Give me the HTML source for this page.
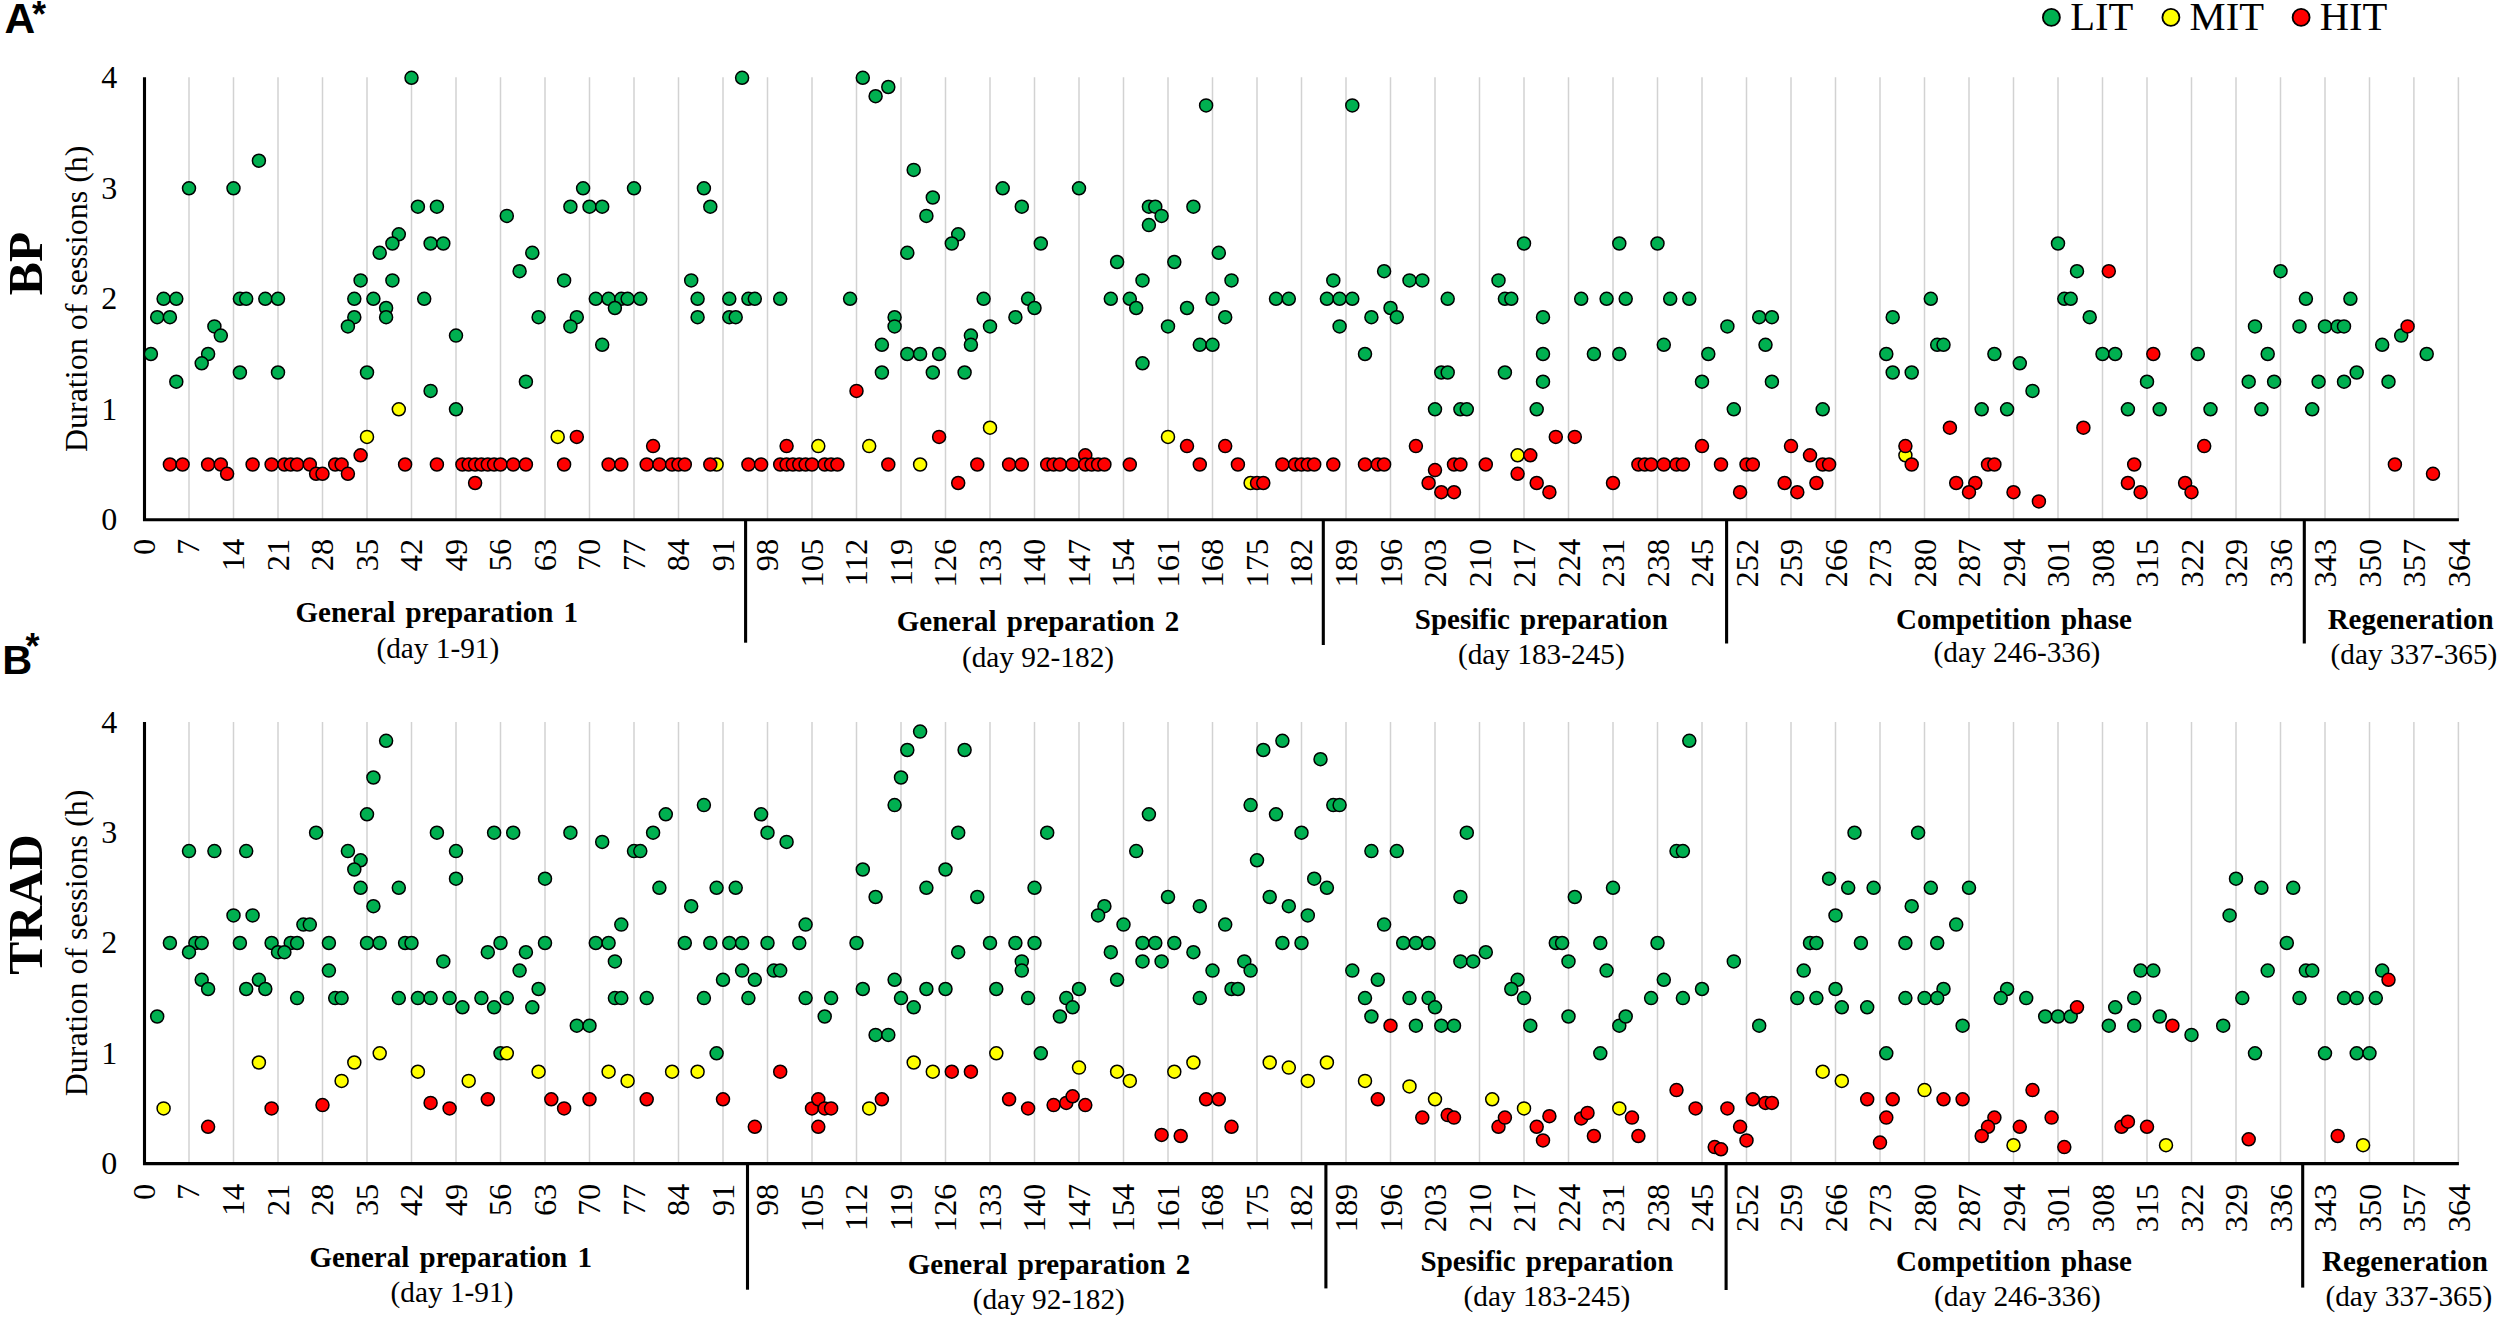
<!DOCTYPE html>
<html><head><meta charset="utf-8"><title>Training sessions</title>
<style>
html,body{margin:0;padding:0;background:#fff}
svg{display:block}
text{font-family:"Liberation Serif", serif;fill:#000}
.g line{stroke:#d2d2d2;stroke-width:1.5}
.ax{stroke:#000;stroke-width:3.1;fill:none}
.L circle{fill:#00b050;stroke:#000;stroke-width:1.5}
.M circle{fill:#ffff00;stroke:#000;stroke-width:1.5}
.H circle{fill:#ff0000;stroke:#000;stroke-width:1.5}
.t{font-size:32px}
.b{font-size:29px;font-weight:bold;text-anchor:middle;word-spacing:3px}
.d{font-size:29.3px;text-anchor:middle}
</style></head><body>
<svg width="2500" height="1318" viewBox="0 0 2500 1318">
<rect width="2500" height="1318" fill="#fff"/>

<g class="g">
<line x1="189.0" y1="77.3" x2="189.0" y2="519.8"/>
<line x1="233.5" y1="77.3" x2="233.5" y2="519.8"/>
<line x1="278.0" y1="77.3" x2="278.0" y2="519.8"/>
<line x1="322.5" y1="77.3" x2="322.5" y2="519.8"/>
<line x1="367.0" y1="77.3" x2="367.0" y2="519.8"/>
<line x1="411.5" y1="77.3" x2="411.5" y2="519.8"/>
<line x1="456.0" y1="77.3" x2="456.0" y2="519.8"/>
<line x1="500.5" y1="77.3" x2="500.5" y2="519.8"/>
<line x1="545.0" y1="77.3" x2="545.0" y2="519.8"/>
<line x1="589.5" y1="77.3" x2="589.5" y2="519.8"/>
<line x1="634.0" y1="77.3" x2="634.0" y2="519.8"/>
<line x1="678.5" y1="77.3" x2="678.5" y2="519.8"/>
<line x1="723.0" y1="77.3" x2="723.0" y2="519.8"/>
<line x1="767.5" y1="77.3" x2="767.5" y2="519.8"/>
<line x1="812.0" y1="77.3" x2="812.0" y2="519.8"/>
<line x1="856.5" y1="77.3" x2="856.5" y2="519.8"/>
<line x1="901.0" y1="77.3" x2="901.0" y2="519.8"/>
<line x1="945.5" y1="77.3" x2="945.5" y2="519.8"/>
<line x1="990.0" y1="77.3" x2="990.0" y2="519.8"/>
<line x1="1034.5" y1="77.3" x2="1034.5" y2="519.8"/>
<line x1="1079.0" y1="77.3" x2="1079.0" y2="519.8"/>
<line x1="1123.5" y1="77.3" x2="1123.5" y2="519.8"/>
<line x1="1168.0" y1="77.3" x2="1168.0" y2="519.8"/>
<line x1="1212.5" y1="77.3" x2="1212.5" y2="519.8"/>
<line x1="1257.0" y1="77.3" x2="1257.0" y2="519.8"/>
<line x1="1301.5" y1="77.3" x2="1301.5" y2="519.8"/>
<line x1="1346.0" y1="77.3" x2="1346.0" y2="519.8"/>
<line x1="1390.5" y1="77.3" x2="1390.5" y2="519.8"/>
<line x1="1435.0" y1="77.3" x2="1435.0" y2="519.8"/>
<line x1="1479.5" y1="77.3" x2="1479.5" y2="519.8"/>
<line x1="1524.0" y1="77.3" x2="1524.0" y2="519.8"/>
<line x1="1568.5" y1="77.3" x2="1568.5" y2="519.8"/>
<line x1="1613.0" y1="77.3" x2="1613.0" y2="519.8"/>
<line x1="1657.5" y1="77.3" x2="1657.5" y2="519.8"/>
<line x1="1702.0" y1="77.3" x2="1702.0" y2="519.8"/>
<line x1="1746.5" y1="77.3" x2="1746.5" y2="519.8"/>
<line x1="1791.0" y1="77.3" x2="1791.0" y2="519.8"/>
<line x1="1835.5" y1="77.3" x2="1835.5" y2="519.8"/>
<line x1="1880.0" y1="77.3" x2="1880.0" y2="519.8"/>
<line x1="1924.5" y1="77.3" x2="1924.5" y2="519.8"/>
<line x1="1969.0" y1="77.3" x2="1969.0" y2="519.8"/>
<line x1="2013.5" y1="77.3" x2="2013.5" y2="519.8"/>
<line x1="2058.0" y1="77.3" x2="2058.0" y2="519.8"/>
<line x1="2102.5" y1="77.3" x2="2102.5" y2="519.8"/>
<line x1="2147.0" y1="77.3" x2="2147.0" y2="519.8"/>
<line x1="2191.5" y1="77.3" x2="2191.5" y2="519.8"/>
<line x1="2236.0" y1="77.3" x2="2236.0" y2="519.8"/>
<line x1="2280.5" y1="77.3" x2="2280.5" y2="519.8"/>
<line x1="2325.0" y1="77.3" x2="2325.0" y2="519.8"/>
<line x1="2369.5" y1="77.3" x2="2369.5" y2="519.8"/>
<line x1="2413.9" y1="77.3" x2="2413.9" y2="519.8"/>
<line x1="2458.4" y1="77.3" x2="2458.4" y2="519.8"/>
</g>
<path class="ax" d="M144.5 77.3 V519.8 H2458.9"/>
<path class="ax" d="M745.6 519.8 V642.7"/>
<path class="ax" d="M1323.3 519.8 V645.0"/>
<path class="ax" d="M1726.6 519.8 V643.5"/>
<path class="ax" d="M2304.3 519.8 V643.5"/>
<text class="t" x="117.3" y="530.0" text-anchor="end">0</text>
<text class="t" x="117.3" y="419.5" text-anchor="end">1</text>
<text class="t" x="117.3" y="309.0" text-anchor="end">2</text>
<text class="t" x="117.3" y="198.5" text-anchor="end">3</text>
<text class="t" x="117.3" y="88.0" text-anchor="end">4</text>
<text class="t" transform="translate(154.9 538.8) rotate(-90)" text-anchor="end" style="font-size:32.4px">0</text>
<text class="t" transform="translate(199.4 538.8) rotate(-90)" text-anchor="end" style="font-size:32.4px">7</text>
<text class="t" transform="translate(243.9 538.8) rotate(-90)" text-anchor="end" style="font-size:32.4px">14</text>
<text class="t" transform="translate(288.5 538.8) rotate(-90)" text-anchor="end" style="font-size:32.4px">21</text>
<text class="t" transform="translate(333.0 538.8) rotate(-90)" text-anchor="end" style="font-size:32.4px">28</text>
<text class="t" transform="translate(377.5 538.8) rotate(-90)" text-anchor="end" style="font-size:32.4px">35</text>
<text class="t" transform="translate(422.0 538.8) rotate(-90)" text-anchor="end" style="font-size:32.4px">42</text>
<text class="t" transform="translate(466.5 538.8) rotate(-90)" text-anchor="end" style="font-size:32.4px">49</text>
<text class="t" transform="translate(511.1 538.8) rotate(-90)" text-anchor="end" style="font-size:32.4px">56</text>
<text class="t" transform="translate(555.6 538.8) rotate(-90)" text-anchor="end" style="font-size:32.4px">63</text>
<text class="t" transform="translate(600.1 538.8) rotate(-90)" text-anchor="end" style="font-size:32.4px">70</text>
<text class="t" transform="translate(644.6 538.8) rotate(-90)" text-anchor="end" style="font-size:32.4px">77</text>
<text class="t" transform="translate(689.1 538.8) rotate(-90)" text-anchor="end" style="font-size:32.4px">84</text>
<text class="t" transform="translate(733.7 538.8) rotate(-90)" text-anchor="end" style="font-size:32.4px">91</text>
<text class="t" transform="translate(778.2 538.8) rotate(-90)" text-anchor="end" style="font-size:32.4px">98</text>
<text class="t" transform="translate(822.7 538.8) rotate(-90)" text-anchor="end" style="font-size:32.4px">105</text>
<text class="t" transform="translate(867.2 538.8) rotate(-90)" text-anchor="end" style="font-size:32.4px">112</text>
<text class="t" transform="translate(911.7 538.8) rotate(-90)" text-anchor="end" style="font-size:32.4px">119</text>
<text class="t" transform="translate(956.3 538.8) rotate(-90)" text-anchor="end" style="font-size:32.4px">126</text>
<text class="t" transform="translate(1000.8 538.8) rotate(-90)" text-anchor="end" style="font-size:32.4px">133</text>
<text class="t" transform="translate(1045.3 538.8) rotate(-90)" text-anchor="end" style="font-size:32.4px">140</text>
<text class="t" transform="translate(1089.8 538.8) rotate(-90)" text-anchor="end" style="font-size:32.4px">147</text>
<text class="t" transform="translate(1134.3 538.8) rotate(-90)" text-anchor="end" style="font-size:32.4px">154</text>
<text class="t" transform="translate(1178.9 538.8) rotate(-90)" text-anchor="end" style="font-size:32.4px">161</text>
<text class="t" transform="translate(1223.4 538.8) rotate(-90)" text-anchor="end" style="font-size:32.4px">168</text>
<text class="t" transform="translate(1267.9 538.8) rotate(-90)" text-anchor="end" style="font-size:32.4px">175</text>
<text class="t" transform="translate(1312.4 538.8) rotate(-90)" text-anchor="end" style="font-size:32.4px">182</text>
<text class="t" transform="translate(1356.9 538.8) rotate(-90)" text-anchor="end" style="font-size:32.4px">189</text>
<text class="t" transform="translate(1401.5 538.8) rotate(-90)" text-anchor="end" style="font-size:32.4px">196</text>
<text class="t" transform="translate(1446.0 538.8) rotate(-90)" text-anchor="end" style="font-size:32.4px">203</text>
<text class="t" transform="translate(1490.5 538.8) rotate(-90)" text-anchor="end" style="font-size:32.4px">210</text>
<text class="t" transform="translate(1535.0 538.8) rotate(-90)" text-anchor="end" style="font-size:32.4px">217</text>
<text class="t" transform="translate(1579.5 538.8) rotate(-90)" text-anchor="end" style="font-size:32.4px">224</text>
<text class="t" transform="translate(1624.1 538.8) rotate(-90)" text-anchor="end" style="font-size:32.4px">231</text>
<text class="t" transform="translate(1668.6 538.8) rotate(-90)" text-anchor="end" style="font-size:32.4px">238</text>
<text class="t" transform="translate(1713.1 538.8) rotate(-90)" text-anchor="end" style="font-size:32.4px">245</text>
<text class="t" transform="translate(1757.6 538.8) rotate(-90)" text-anchor="end" style="font-size:32.4px">252</text>
<text class="t" transform="translate(1802.1 538.8) rotate(-90)" text-anchor="end" style="font-size:32.4px">259</text>
<text class="t" transform="translate(1846.7 538.8) rotate(-90)" text-anchor="end" style="font-size:32.4px">266</text>
<text class="t" transform="translate(1891.2 538.8) rotate(-90)" text-anchor="end" style="font-size:32.4px">273</text>
<text class="t" transform="translate(1935.7 538.8) rotate(-90)" text-anchor="end" style="font-size:32.4px">280</text>
<text class="t" transform="translate(1980.2 538.8) rotate(-90)" text-anchor="end" style="font-size:32.4px">287</text>
<text class="t" transform="translate(2024.7 538.8) rotate(-90)" text-anchor="end" style="font-size:32.4px">294</text>
<text class="t" transform="translate(2069.3 538.8) rotate(-90)" text-anchor="end" style="font-size:32.4px">301</text>
<text class="t" transform="translate(2113.8 538.8) rotate(-90)" text-anchor="end" style="font-size:32.4px">308</text>
<text class="t" transform="translate(2158.3 538.8) rotate(-90)" text-anchor="end" style="font-size:32.4px">315</text>
<text class="t" transform="translate(2202.8 538.8) rotate(-90)" text-anchor="end" style="font-size:32.4px">322</text>
<text class="t" transform="translate(2247.3 538.8) rotate(-90)" text-anchor="end" style="font-size:32.4px">329</text>
<text class="t" transform="translate(2291.9 538.8) rotate(-90)" text-anchor="end" style="font-size:32.4px">336</text>
<text class="t" transform="translate(2336.4 538.8) rotate(-90)" text-anchor="end" style="font-size:32.4px">343</text>
<text class="t" transform="translate(2380.9 538.8) rotate(-90)" text-anchor="end" style="font-size:32.4px">350</text>
<text class="t" transform="translate(2425.4 538.8) rotate(-90)" text-anchor="end" style="font-size:32.4px">357</text>
<text class="t" transform="translate(2469.9 538.8) rotate(-90)" text-anchor="end" style="font-size:32.4px">364</text>
<text class="t" transform="translate(87 298.8) rotate(-90)" text-anchor="middle">Duration of sessions (h)</text>
<text transform="translate(41.5 263.5) rotate(-90)" text-anchor="middle" style="font-size:49.5px;font-weight:bold">BP</text>
<text class="b" x="436.8" y="622.0">General preparation 1</text>
<text class="d" x="437.8" y="657.5">(day 1-91)</text>
<text class="b" x="1038.0" y="631.1">General preparation 2</text>
<text class="d" x="1038.0" y="667.3">(day 92-182)</text>
<text class="b" x="1541.3" y="628.5">Spesific preparation</text>
<text class="d" x="1541.3" y="663.5">(day 183-245)</text>
<text class="b" x="2014.0" y="628.5">Competition phase</text>
<text class="d" x="2017.0" y="662.0">(day 246-336)</text>
<text class="b" x="2410.6" y="628.5">Regeneration</text>
<text class="d" x="2414.0" y="663.5">(day 337-365)</text>
<g class="L">
<circle cx="411.5" cy="77.8" r="6.5"/>
<circle cx="258.9" cy="160.7" r="6.5"/>
<circle cx="189.0" cy="188.3" r="6.5"/>
<circle cx="233.5" cy="188.3" r="6.5"/>
<circle cx="583.1" cy="188.3" r="6.5"/>
<circle cx="634.0" cy="188.3" r="6.5"/>
<circle cx="417.9" cy="206.7" r="6.5"/>
<circle cx="436.9" cy="206.7" r="6.5"/>
<circle cx="570.4" cy="206.7" r="6.5"/>
<circle cx="589.5" cy="206.7" r="6.5"/>
<circle cx="602.2" cy="206.7" r="6.5"/>
<circle cx="506.8" cy="215.9" r="6.5"/>
<circle cx="398.8" cy="234.3" r="6.5"/>
<circle cx="392.4" cy="243.5" r="6.5"/>
<circle cx="430.6" cy="243.5" r="6.5"/>
<circle cx="443.3" cy="243.5" r="6.5"/>
<circle cx="379.7" cy="252.8" r="6.5"/>
<circle cx="532.3" cy="252.8" r="6.5"/>
<circle cx="519.6" cy="271.2" r="6.5"/>
<circle cx="360.6" cy="280.4" r="6.5"/>
<circle cx="392.4" cy="280.4" r="6.5"/>
<circle cx="564.1" cy="280.4" r="6.5"/>
<circle cx="163.6" cy="298.8" r="6.5"/>
<circle cx="176.3" cy="298.8" r="6.5"/>
<circle cx="239.9" cy="298.8" r="6.5"/>
<circle cx="246.2" cy="298.8" r="6.5"/>
<circle cx="265.3" cy="298.8" r="6.5"/>
<circle cx="278.0" cy="298.8" r="6.5"/>
<circle cx="354.3" cy="298.8" r="6.5"/>
<circle cx="373.4" cy="298.8" r="6.5"/>
<circle cx="424.2" cy="298.8" r="6.5"/>
<circle cx="595.8" cy="298.8" r="6.5"/>
<circle cx="608.6" cy="298.8" r="6.5"/>
<circle cx="621.3" cy="298.8" r="6.5"/>
<circle cx="627.6" cy="298.8" r="6.5"/>
<circle cx="640.3" cy="298.8" r="6.5"/>
<circle cx="386.1" cy="308.0" r="6.5"/>
<circle cx="614.9" cy="308.0" r="6.5"/>
<circle cx="157.2" cy="317.2" r="6.5"/>
<circle cx="169.9" cy="317.2" r="6.5"/>
<circle cx="354.3" cy="317.2" r="6.5"/>
<circle cx="386.1" cy="317.2" r="6.5"/>
<circle cx="538.6" cy="317.2" r="6.5"/>
<circle cx="576.8" cy="317.2" r="6.5"/>
<circle cx="214.4" cy="326.4" r="6.5"/>
<circle cx="347.9" cy="326.4" r="6.5"/>
<circle cx="570.4" cy="326.4" r="6.5"/>
<circle cx="220.8" cy="335.6" r="6.5"/>
<circle cx="456.0" cy="335.6" r="6.5"/>
<circle cx="602.2" cy="344.8" r="6.5"/>
<circle cx="150.9" cy="354.0" r="6.5"/>
<circle cx="208.1" cy="354.0" r="6.5"/>
<circle cx="201.7" cy="363.3" r="6.5"/>
<circle cx="176.3" cy="381.7" r="6.5"/>
<circle cx="239.9" cy="372.5" r="6.5"/>
<circle cx="278.0" cy="372.5" r="6.5"/>
<circle cx="367.0" cy="372.5" r="6.5"/>
<circle cx="430.6" cy="390.9" r="6.5"/>
<circle cx="456.0" cy="409.3" r="6.5"/>
<circle cx="525.9" cy="381.7" r="6.5"/>
<circle cx="742.1" cy="77.8" r="6.5"/>
<circle cx="862.8" cy="77.8" r="6.5"/>
<circle cx="888.3" cy="87.0" r="6.5"/>
<circle cx="875.6" cy="96.2" r="6.5"/>
<circle cx="1206.1" cy="105.4" r="6.5"/>
<circle cx="913.7" cy="169.9" r="6.5"/>
<circle cx="703.9" cy="188.3" r="6.5"/>
<circle cx="1002.7" cy="188.3" r="6.5"/>
<circle cx="1079.0" cy="188.3" r="6.5"/>
<circle cx="932.8" cy="197.5" r="6.5"/>
<circle cx="710.3" cy="206.7" r="6.5"/>
<circle cx="1021.8" cy="206.7" r="6.5"/>
<circle cx="1148.9" cy="206.7" r="6.5"/>
<circle cx="1155.3" cy="206.7" r="6.5"/>
<circle cx="1193.4" cy="206.7" r="6.5"/>
<circle cx="926.4" cy="215.9" r="6.5"/>
<circle cx="1161.6" cy="215.9" r="6.5"/>
<circle cx="1148.9" cy="225.1" r="6.5"/>
<circle cx="958.2" cy="234.3" r="6.5"/>
<circle cx="951.8" cy="243.5" r="6.5"/>
<circle cx="1040.8" cy="243.5" r="6.5"/>
<circle cx="907.3" cy="252.8" r="6.5"/>
<circle cx="1218.8" cy="252.8" r="6.5"/>
<circle cx="1117.1" cy="262.0" r="6.5"/>
<circle cx="1174.3" cy="262.0" r="6.5"/>
<circle cx="691.2" cy="280.4" r="6.5"/>
<circle cx="1142.5" cy="280.4" r="6.5"/>
<circle cx="1231.5" cy="280.4" r="6.5"/>
<circle cx="697.6" cy="298.8" r="6.5"/>
<circle cx="729.3" cy="298.8" r="6.5"/>
<circle cx="748.4" cy="298.8" r="6.5"/>
<circle cx="754.8" cy="298.8" r="6.5"/>
<circle cx="780.2" cy="298.8" r="6.5"/>
<circle cx="850.1" cy="298.8" r="6.5"/>
<circle cx="983.6" cy="298.8" r="6.5"/>
<circle cx="1028.1" cy="298.8" r="6.5"/>
<circle cx="1110.8" cy="298.8" r="6.5"/>
<circle cx="1129.8" cy="298.8" r="6.5"/>
<circle cx="1212.5" cy="298.8" r="6.5"/>
<circle cx="1034.5" cy="308.0" r="6.5"/>
<circle cx="1136.2" cy="308.0" r="6.5"/>
<circle cx="1187.0" cy="308.0" r="6.5"/>
<circle cx="697.6" cy="317.2" r="6.5"/>
<circle cx="729.3" cy="317.2" r="6.5"/>
<circle cx="735.7" cy="317.2" r="6.5"/>
<circle cx="894.6" cy="317.2" r="6.5"/>
<circle cx="1015.4" cy="317.2" r="6.5"/>
<circle cx="1225.2" cy="317.2" r="6.5"/>
<circle cx="894.6" cy="326.4" r="6.5"/>
<circle cx="990.0" cy="326.4" r="6.5"/>
<circle cx="1168.0" cy="326.4" r="6.5"/>
<circle cx="970.9" cy="335.6" r="6.5"/>
<circle cx="881.9" cy="344.8" r="6.5"/>
<circle cx="1199.8" cy="344.8" r="6.5"/>
<circle cx="1212.5" cy="344.8" r="6.5"/>
<circle cx="881.9" cy="372.5" r="6.5"/>
<circle cx="907.3" cy="354.0" r="6.5"/>
<circle cx="920.1" cy="354.0" r="6.5"/>
<circle cx="939.1" cy="354.0" r="6.5"/>
<circle cx="932.8" cy="372.5" r="6.5"/>
<circle cx="964.6" cy="372.5" r="6.5"/>
<circle cx="970.9" cy="344.8" r="6.5"/>
<circle cx="1142.5" cy="363.3" r="6.5"/>
<circle cx="1352.3" cy="105.4" r="6.5"/>
<circle cx="1524.0" cy="243.5" r="6.5"/>
<circle cx="1619.3" cy="243.5" r="6.5"/>
<circle cx="1657.5" cy="243.5" r="6.5"/>
<circle cx="1384.1" cy="271.2" r="6.5"/>
<circle cx="1333.3" cy="280.4" r="6.5"/>
<circle cx="1409.5" cy="280.4" r="6.5"/>
<circle cx="1422.3" cy="280.4" r="6.5"/>
<circle cx="1498.5" cy="280.4" r="6.5"/>
<circle cx="1276.0" cy="298.8" r="6.5"/>
<circle cx="1288.8" cy="298.8" r="6.5"/>
<circle cx="1326.9" cy="298.8" r="6.5"/>
<circle cx="1339.6" cy="298.8" r="6.5"/>
<circle cx="1352.3" cy="298.8" r="6.5"/>
<circle cx="1447.7" cy="298.8" r="6.5"/>
<circle cx="1504.9" cy="298.8" r="6.5"/>
<circle cx="1511.3" cy="298.8" r="6.5"/>
<circle cx="1581.2" cy="298.8" r="6.5"/>
<circle cx="1606.6" cy="298.8" r="6.5"/>
<circle cx="1625.7" cy="298.8" r="6.5"/>
<circle cx="1670.2" cy="298.8" r="6.5"/>
<circle cx="1689.3" cy="298.8" r="6.5"/>
<circle cx="1390.5" cy="308.0" r="6.5"/>
<circle cx="1371.4" cy="317.2" r="6.5"/>
<circle cx="1396.8" cy="317.2" r="6.5"/>
<circle cx="1543.0" cy="317.2" r="6.5"/>
<circle cx="1759.2" cy="317.2" r="6.5"/>
<circle cx="1771.9" cy="317.2" r="6.5"/>
<circle cx="1339.6" cy="326.4" r="6.5"/>
<circle cx="1727.4" cy="326.4" r="6.5"/>
<circle cx="1663.8" cy="344.8" r="6.5"/>
<circle cx="1765.5" cy="344.8" r="6.5"/>
<circle cx="1365.0" cy="354.0" r="6.5"/>
<circle cx="1441.3" cy="372.5" r="6.5"/>
<circle cx="1447.7" cy="372.5" r="6.5"/>
<circle cx="1504.9" cy="372.5" r="6.5"/>
<circle cx="1543.0" cy="354.0" r="6.5"/>
<circle cx="1543.0" cy="381.7" r="6.5"/>
<circle cx="1435.0" cy="409.3" r="6.5"/>
<circle cx="1460.4" cy="409.3" r="6.5"/>
<circle cx="1466.8" cy="409.3" r="6.5"/>
<circle cx="1536.7" cy="409.3" r="6.5"/>
<circle cx="1593.9" cy="354.0" r="6.5"/>
<circle cx="1619.3" cy="354.0" r="6.5"/>
<circle cx="1708.3" cy="354.0" r="6.5"/>
<circle cx="1702.0" cy="381.7" r="6.5"/>
<circle cx="1771.9" cy="381.7" r="6.5"/>
<circle cx="1733.8" cy="409.3" r="6.5"/>
<circle cx="1822.7" cy="409.3" r="6.5"/>
<circle cx="2058.0" cy="243.5" r="6.5"/>
<circle cx="2077.0" cy="271.2" r="6.5"/>
<circle cx="2280.5" cy="271.2" r="6.5"/>
<circle cx="1930.8" cy="298.8" r="6.5"/>
<circle cx="2064.3" cy="298.8" r="6.5"/>
<circle cx="2070.7" cy="298.8" r="6.5"/>
<circle cx="2305.9" cy="298.8" r="6.5"/>
<circle cx="2350.4" cy="298.8" r="6.5"/>
<circle cx="1892.7" cy="317.2" r="6.5"/>
<circle cx="2089.7" cy="317.2" r="6.5"/>
<circle cx="2255.0" cy="326.4" r="6.5"/>
<circle cx="2299.5" cy="326.4" r="6.5"/>
<circle cx="2325.0" cy="326.4" r="6.5"/>
<circle cx="2337.7" cy="326.4" r="6.5"/>
<circle cx="2344.0" cy="326.4" r="6.5"/>
<circle cx="2401.2" cy="335.6" r="6.5"/>
<circle cx="2382.2" cy="344.8" r="6.5"/>
<circle cx="1937.2" cy="344.8" r="6.5"/>
<circle cx="1943.5" cy="344.8" r="6.5"/>
<circle cx="1886.3" cy="354.0" r="6.5"/>
<circle cx="1892.7" cy="372.5" r="6.5"/>
<circle cx="1911.7" cy="372.5" r="6.5"/>
<circle cx="1994.4" cy="354.0" r="6.5"/>
<circle cx="2019.8" cy="363.3" r="6.5"/>
<circle cx="2032.5" cy="390.9" r="6.5"/>
<circle cx="1981.7" cy="409.3" r="6.5"/>
<circle cx="2007.1" cy="409.3" r="6.5"/>
<circle cx="2102.5" cy="354.0" r="6.5"/>
<circle cx="2115.2" cy="354.0" r="6.5"/>
<circle cx="2197.8" cy="354.0" r="6.5"/>
<circle cx="2147.0" cy="381.7" r="6.5"/>
<circle cx="2127.9" cy="409.3" r="6.5"/>
<circle cx="2159.7" cy="409.3" r="6.5"/>
<circle cx="2210.5" cy="409.3" r="6.5"/>
<circle cx="2267.7" cy="354.0" r="6.5"/>
<circle cx="2248.7" cy="381.7" r="6.5"/>
<circle cx="2274.1" cy="381.7" r="6.5"/>
<circle cx="2261.4" cy="409.3" r="6.5"/>
<circle cx="2312.2" cy="409.3" r="6.5"/>
<circle cx="2318.6" cy="381.7" r="6.5"/>
<circle cx="2344.0" cy="381.7" r="6.5"/>
<circle cx="2356.7" cy="372.5" r="6.5"/>
<circle cx="2388.5" cy="381.7" r="6.5"/>
<circle cx="2426.7" cy="354.0" r="6.5"/>
</g>
<g class="M">
<circle cx="398.8" cy="409.3" r="6.5"/>
<circle cx="367.0" cy="436.9" r="6.5"/>
<circle cx="557.7" cy="436.9" r="6.5"/>
<circle cx="818.3" cy="446.1" r="6.5"/>
<circle cx="869.2" cy="446.1" r="6.5"/>
<circle cx="716.6" cy="464.5" r="6.5"/>
<circle cx="920.1" cy="464.5" r="6.5"/>
<circle cx="990.0" cy="427.7" r="6.5"/>
<circle cx="1168.0" cy="436.9" r="6.5"/>
<circle cx="1250.6" cy="483.0" r="6.5"/>
<circle cx="1517.6" cy="455.3" r="6.5"/>
<circle cx="1905.4" cy="455.3" r="6.5"/>
</g>
<g class="H">
<circle cx="576.8" cy="436.9" r="6.5"/>
<circle cx="360.6" cy="455.3" r="6.5"/>
<circle cx="169.9" cy="464.5" r="6.5"/>
<circle cx="182.6" cy="464.5" r="6.5"/>
<circle cx="208.1" cy="464.5" r="6.5"/>
<circle cx="220.8" cy="464.5" r="6.5"/>
<circle cx="252.6" cy="464.5" r="6.5"/>
<circle cx="271.6" cy="464.5" r="6.5"/>
<circle cx="284.4" cy="464.5" r="6.5"/>
<circle cx="290.7" cy="464.5" r="6.5"/>
<circle cx="297.1" cy="464.5" r="6.5"/>
<circle cx="309.8" cy="464.5" r="6.5"/>
<circle cx="335.2" cy="464.5" r="6.5"/>
<circle cx="341.6" cy="464.5" r="6.5"/>
<circle cx="405.1" cy="464.5" r="6.5"/>
<circle cx="436.9" cy="464.5" r="6.5"/>
<circle cx="462.4" cy="464.5" r="6.5"/>
<circle cx="468.7" cy="464.5" r="6.5"/>
<circle cx="475.1" cy="464.5" r="6.5"/>
<circle cx="481.4" cy="464.5" r="6.5"/>
<circle cx="487.8" cy="464.5" r="6.5"/>
<circle cx="494.1" cy="464.5" r="6.5"/>
<circle cx="500.5" cy="464.5" r="6.5"/>
<circle cx="513.2" cy="464.5" r="6.5"/>
<circle cx="525.9" cy="464.5" r="6.5"/>
<circle cx="564.1" cy="464.5" r="6.5"/>
<circle cx="608.6" cy="464.5" r="6.5"/>
<circle cx="621.3" cy="464.5" r="6.5"/>
<circle cx="227.1" cy="473.8" r="6.5"/>
<circle cx="316.1" cy="473.8" r="6.5"/>
<circle cx="322.5" cy="473.8" r="6.5"/>
<circle cx="347.9" cy="473.8" r="6.5"/>
<circle cx="475.1" cy="483.0" r="6.5"/>
<circle cx="856.5" cy="390.9" r="6.5"/>
<circle cx="653.1" cy="446.1" r="6.5"/>
<circle cx="786.6" cy="446.1" r="6.5"/>
<circle cx="939.1" cy="436.9" r="6.5"/>
<circle cx="1085.3" cy="455.3" r="6.5"/>
<circle cx="1187.0" cy="446.1" r="6.5"/>
<circle cx="1225.2" cy="446.1" r="6.5"/>
<circle cx="958.2" cy="483.0" r="6.5"/>
<circle cx="646.7" cy="464.5" r="6.5"/>
<circle cx="659.4" cy="464.5" r="6.5"/>
<circle cx="672.1" cy="464.5" r="6.5"/>
<circle cx="678.5" cy="464.5" r="6.5"/>
<circle cx="684.8" cy="464.5" r="6.5"/>
<circle cx="710.3" cy="464.5" r="6.5"/>
<circle cx="748.4" cy="464.5" r="6.5"/>
<circle cx="761.1" cy="464.5" r="6.5"/>
<circle cx="780.2" cy="464.5" r="6.5"/>
<circle cx="786.6" cy="464.5" r="6.5"/>
<circle cx="792.9" cy="464.5" r="6.5"/>
<circle cx="799.3" cy="464.5" r="6.5"/>
<circle cx="805.6" cy="464.5" r="6.5"/>
<circle cx="812.0" cy="464.5" r="6.5"/>
<circle cx="824.7" cy="464.5" r="6.5"/>
<circle cx="831.1" cy="464.5" r="6.5"/>
<circle cx="837.4" cy="464.5" r="6.5"/>
<circle cx="888.3" cy="464.5" r="6.5"/>
<circle cx="977.3" cy="464.5" r="6.5"/>
<circle cx="1009.1" cy="464.5" r="6.5"/>
<circle cx="1021.8" cy="464.5" r="6.5"/>
<circle cx="1047.2" cy="464.5" r="6.5"/>
<circle cx="1053.6" cy="464.5" r="6.5"/>
<circle cx="1059.9" cy="464.5" r="6.5"/>
<circle cx="1072.6" cy="464.5" r="6.5"/>
<circle cx="1085.3" cy="464.5" r="6.5"/>
<circle cx="1091.7" cy="464.5" r="6.5"/>
<circle cx="1098.1" cy="464.5" r="6.5"/>
<circle cx="1104.4" cy="464.5" r="6.5"/>
<circle cx="1129.8" cy="464.5" r="6.5"/>
<circle cx="1199.8" cy="464.5" r="6.5"/>
<circle cx="1237.9" cy="464.5" r="6.5"/>
<circle cx="1282.4" cy="464.5" r="6.5"/>
<circle cx="1295.1" cy="464.5" r="6.5"/>
<circle cx="1301.5" cy="464.5" r="6.5"/>
<circle cx="1307.8" cy="464.5" r="6.5"/>
<circle cx="1314.2" cy="464.5" r="6.5"/>
<circle cx="1333.3" cy="464.5" r="6.5"/>
<circle cx="1365.0" cy="464.5" r="6.5"/>
<circle cx="1377.8" cy="464.5" r="6.5"/>
<circle cx="1384.1" cy="464.5" r="6.5"/>
<circle cx="1454.0" cy="464.5" r="6.5"/>
<circle cx="1460.4" cy="464.5" r="6.5"/>
<circle cx="1485.8" cy="464.5" r="6.5"/>
<circle cx="1638.4" cy="464.5" r="6.5"/>
<circle cx="1644.8" cy="464.5" r="6.5"/>
<circle cx="1651.1" cy="464.5" r="6.5"/>
<circle cx="1663.8" cy="464.5" r="6.5"/>
<circle cx="1676.5" cy="464.5" r="6.5"/>
<circle cx="1682.9" cy="464.5" r="6.5"/>
<circle cx="1721.0" cy="464.5" r="6.5"/>
<circle cx="1746.5" cy="464.5" r="6.5"/>
<circle cx="1752.8" cy="464.5" r="6.5"/>
<circle cx="1822.7" cy="464.5" r="6.5"/>
<circle cx="1829.1" cy="464.5" r="6.5"/>
<circle cx="1257.0" cy="483.0" r="6.5"/>
<circle cx="1263.3" cy="483.0" r="6.5"/>
<circle cx="1428.6" cy="483.0" r="6.5"/>
<circle cx="1536.7" cy="483.0" r="6.5"/>
<circle cx="1613.0" cy="483.0" r="6.5"/>
<circle cx="1784.6" cy="483.0" r="6.5"/>
<circle cx="1816.4" cy="483.0" r="6.5"/>
<circle cx="1441.3" cy="492.2" r="6.5"/>
<circle cx="1454.0" cy="492.2" r="6.5"/>
<circle cx="1549.4" cy="492.2" r="6.5"/>
<circle cx="1740.1" cy="492.2" r="6.5"/>
<circle cx="1797.3" cy="492.2" r="6.5"/>
<circle cx="1435.0" cy="470.1" r="6.5"/>
<circle cx="1517.6" cy="473.8" r="6.5"/>
<circle cx="1415.9" cy="446.1" r="6.5"/>
<circle cx="1530.3" cy="455.3" r="6.5"/>
<circle cx="1555.8" cy="436.9" r="6.5"/>
<circle cx="1574.8" cy="436.9" r="6.5"/>
<circle cx="1702.0" cy="446.1" r="6.5"/>
<circle cx="1791.0" cy="446.1" r="6.5"/>
<circle cx="1810.0" cy="455.3" r="6.5"/>
<circle cx="2153.3" cy="354.0" r="6.5"/>
<circle cx="1949.9" cy="427.7" r="6.5"/>
<circle cx="2083.4" cy="427.7" r="6.5"/>
<circle cx="1905.4" cy="446.1" r="6.5"/>
<circle cx="1911.7" cy="464.5" r="6.5"/>
<circle cx="1988.0" cy="464.5" r="6.5"/>
<circle cx="1994.4" cy="464.5" r="6.5"/>
<circle cx="2134.2" cy="464.5" r="6.5"/>
<circle cx="2394.9" cy="464.5" r="6.5"/>
<circle cx="2204.2" cy="446.1" r="6.5"/>
<circle cx="1956.2" cy="483.0" r="6.5"/>
<circle cx="1975.3" cy="483.0" r="6.5"/>
<circle cx="1969.0" cy="492.2" r="6.5"/>
<circle cx="2013.5" cy="492.2" r="6.5"/>
<circle cx="2038.9" cy="501.4" r="6.5"/>
<circle cx="2127.9" cy="483.0" r="6.5"/>
<circle cx="2140.6" cy="492.2" r="6.5"/>
<circle cx="2185.1" cy="483.0" r="6.5"/>
<circle cx="2191.5" cy="492.2" r="6.5"/>
<circle cx="2433.0" cy="473.8" r="6.5"/>
<circle cx="2407.6" cy="326.4" r="6.5"/>
<circle cx="2108.8" cy="271.2" r="6.5"/>
</g>
<g class="g">
<line x1="189.0" y1="721.9" x2="189.0" y2="1163.6"/>
<line x1="233.5" y1="721.9" x2="233.5" y2="1163.6"/>
<line x1="278.0" y1="721.9" x2="278.0" y2="1163.6"/>
<line x1="322.5" y1="721.9" x2="322.5" y2="1163.6"/>
<line x1="367.0" y1="721.9" x2="367.0" y2="1163.6"/>
<line x1="411.5" y1="721.9" x2="411.5" y2="1163.6"/>
<line x1="456.0" y1="721.9" x2="456.0" y2="1163.6"/>
<line x1="500.5" y1="721.9" x2="500.5" y2="1163.6"/>
<line x1="545.0" y1="721.9" x2="545.0" y2="1163.6"/>
<line x1="589.5" y1="721.9" x2="589.5" y2="1163.6"/>
<line x1="634.0" y1="721.9" x2="634.0" y2="1163.6"/>
<line x1="678.5" y1="721.9" x2="678.5" y2="1163.6"/>
<line x1="723.0" y1="721.9" x2="723.0" y2="1163.6"/>
<line x1="767.5" y1="721.9" x2="767.5" y2="1163.6"/>
<line x1="812.0" y1="721.9" x2="812.0" y2="1163.6"/>
<line x1="856.5" y1="721.9" x2="856.5" y2="1163.6"/>
<line x1="901.0" y1="721.9" x2="901.0" y2="1163.6"/>
<line x1="945.5" y1="721.9" x2="945.5" y2="1163.6"/>
<line x1="990.0" y1="721.9" x2="990.0" y2="1163.6"/>
<line x1="1034.5" y1="721.9" x2="1034.5" y2="1163.6"/>
<line x1="1079.0" y1="721.9" x2="1079.0" y2="1163.6"/>
<line x1="1123.5" y1="721.9" x2="1123.5" y2="1163.6"/>
<line x1="1168.0" y1="721.9" x2="1168.0" y2="1163.6"/>
<line x1="1212.5" y1="721.9" x2="1212.5" y2="1163.6"/>
<line x1="1257.0" y1="721.9" x2="1257.0" y2="1163.6"/>
<line x1="1301.5" y1="721.9" x2="1301.5" y2="1163.6"/>
<line x1="1346.0" y1="721.9" x2="1346.0" y2="1163.6"/>
<line x1="1390.5" y1="721.9" x2="1390.5" y2="1163.6"/>
<line x1="1435.0" y1="721.9" x2="1435.0" y2="1163.6"/>
<line x1="1479.5" y1="721.9" x2="1479.5" y2="1163.6"/>
<line x1="1524.0" y1="721.9" x2="1524.0" y2="1163.6"/>
<line x1="1568.5" y1="721.9" x2="1568.5" y2="1163.6"/>
<line x1="1613.0" y1="721.9" x2="1613.0" y2="1163.6"/>
<line x1="1657.5" y1="721.9" x2="1657.5" y2="1163.6"/>
<line x1="1702.0" y1="721.9" x2="1702.0" y2="1163.6"/>
<line x1="1746.5" y1="721.9" x2="1746.5" y2="1163.6"/>
<line x1="1791.0" y1="721.9" x2="1791.0" y2="1163.6"/>
<line x1="1835.5" y1="721.9" x2="1835.5" y2="1163.6"/>
<line x1="1880.0" y1="721.9" x2="1880.0" y2="1163.6"/>
<line x1="1924.5" y1="721.9" x2="1924.5" y2="1163.6"/>
<line x1="1969.0" y1="721.9" x2="1969.0" y2="1163.6"/>
<line x1="2013.5" y1="721.9" x2="2013.5" y2="1163.6"/>
<line x1="2058.0" y1="721.9" x2="2058.0" y2="1163.6"/>
<line x1="2102.5" y1="721.9" x2="2102.5" y2="1163.6"/>
<line x1="2147.0" y1="721.9" x2="2147.0" y2="1163.6"/>
<line x1="2191.5" y1="721.9" x2="2191.5" y2="1163.6"/>
<line x1="2236.0" y1="721.9" x2="2236.0" y2="1163.6"/>
<line x1="2280.5" y1="721.9" x2="2280.5" y2="1163.6"/>
<line x1="2325.0" y1="721.9" x2="2325.0" y2="1163.6"/>
<line x1="2369.5" y1="721.9" x2="2369.5" y2="1163.6"/>
<line x1="2413.9" y1="721.9" x2="2413.9" y2="1163.6"/>
<line x1="2458.4" y1="721.9" x2="2458.4" y2="1163.6"/>
</g>
<path class="ax" d="M144.5 721.9 V1163.6 H2458.9"/>
<path class="ax" d="M747.5 1163.6 V1289.7"/>
<path class="ax" d="M1325.9 1163.6 V1288.4"/>
<path class="ax" d="M1726.1 1163.6 V1290.0"/>
<path class="ax" d="M2302.7 1163.6 V1287.6"/>
<text class="t" x="117.3" y="1173.8" text-anchor="end">0</text>
<text class="t" x="117.3" y="1063.5" text-anchor="end">1</text>
<text class="t" x="117.3" y="953.2" text-anchor="end">2</text>
<text class="t" x="117.3" y="842.9" text-anchor="end">3</text>
<text class="t" x="117.3" y="732.6" text-anchor="end">4</text>
<text class="t" transform="translate(154.9 1183.7) rotate(-90)" text-anchor="end" style="font-size:32.4px">0</text>
<text class="t" transform="translate(199.4 1183.7) rotate(-90)" text-anchor="end" style="font-size:32.4px">7</text>
<text class="t" transform="translate(243.9 1183.7) rotate(-90)" text-anchor="end" style="font-size:32.4px">14</text>
<text class="t" transform="translate(288.5 1183.7) rotate(-90)" text-anchor="end" style="font-size:32.4px">21</text>
<text class="t" transform="translate(333.0 1183.7) rotate(-90)" text-anchor="end" style="font-size:32.4px">28</text>
<text class="t" transform="translate(377.5 1183.7) rotate(-90)" text-anchor="end" style="font-size:32.4px">35</text>
<text class="t" transform="translate(422.0 1183.7) rotate(-90)" text-anchor="end" style="font-size:32.4px">42</text>
<text class="t" transform="translate(466.5 1183.7) rotate(-90)" text-anchor="end" style="font-size:32.4px">49</text>
<text class="t" transform="translate(511.1 1183.7) rotate(-90)" text-anchor="end" style="font-size:32.4px">56</text>
<text class="t" transform="translate(555.6 1183.7) rotate(-90)" text-anchor="end" style="font-size:32.4px">63</text>
<text class="t" transform="translate(600.1 1183.7) rotate(-90)" text-anchor="end" style="font-size:32.4px">70</text>
<text class="t" transform="translate(644.6 1183.7) rotate(-90)" text-anchor="end" style="font-size:32.4px">77</text>
<text class="t" transform="translate(689.1 1183.7) rotate(-90)" text-anchor="end" style="font-size:32.4px">84</text>
<text class="t" transform="translate(733.7 1183.7) rotate(-90)" text-anchor="end" style="font-size:32.4px">91</text>
<text class="t" transform="translate(778.2 1183.7) rotate(-90)" text-anchor="end" style="font-size:32.4px">98</text>
<text class="t" transform="translate(822.7 1183.7) rotate(-90)" text-anchor="end" style="font-size:32.4px">105</text>
<text class="t" transform="translate(867.2 1183.7) rotate(-90)" text-anchor="end" style="font-size:32.4px">112</text>
<text class="t" transform="translate(911.7 1183.7) rotate(-90)" text-anchor="end" style="font-size:32.4px">119</text>
<text class="t" transform="translate(956.3 1183.7) rotate(-90)" text-anchor="end" style="font-size:32.4px">126</text>
<text class="t" transform="translate(1000.8 1183.7) rotate(-90)" text-anchor="end" style="font-size:32.4px">133</text>
<text class="t" transform="translate(1045.3 1183.7) rotate(-90)" text-anchor="end" style="font-size:32.4px">140</text>
<text class="t" transform="translate(1089.8 1183.7) rotate(-90)" text-anchor="end" style="font-size:32.4px">147</text>
<text class="t" transform="translate(1134.3 1183.7) rotate(-90)" text-anchor="end" style="font-size:32.4px">154</text>
<text class="t" transform="translate(1178.9 1183.7) rotate(-90)" text-anchor="end" style="font-size:32.4px">161</text>
<text class="t" transform="translate(1223.4 1183.7) rotate(-90)" text-anchor="end" style="font-size:32.4px">168</text>
<text class="t" transform="translate(1267.9 1183.7) rotate(-90)" text-anchor="end" style="font-size:32.4px">175</text>
<text class="t" transform="translate(1312.4 1183.7) rotate(-90)" text-anchor="end" style="font-size:32.4px">182</text>
<text class="t" transform="translate(1356.9 1183.7) rotate(-90)" text-anchor="end" style="font-size:32.4px">189</text>
<text class="t" transform="translate(1401.5 1183.7) rotate(-90)" text-anchor="end" style="font-size:32.4px">196</text>
<text class="t" transform="translate(1446.0 1183.7) rotate(-90)" text-anchor="end" style="font-size:32.4px">203</text>
<text class="t" transform="translate(1490.5 1183.7) rotate(-90)" text-anchor="end" style="font-size:32.4px">210</text>
<text class="t" transform="translate(1535.0 1183.7) rotate(-90)" text-anchor="end" style="font-size:32.4px">217</text>
<text class="t" transform="translate(1579.5 1183.7) rotate(-90)" text-anchor="end" style="font-size:32.4px">224</text>
<text class="t" transform="translate(1624.1 1183.7) rotate(-90)" text-anchor="end" style="font-size:32.4px">231</text>
<text class="t" transform="translate(1668.6 1183.7) rotate(-90)" text-anchor="end" style="font-size:32.4px">238</text>
<text class="t" transform="translate(1713.1 1183.7) rotate(-90)" text-anchor="end" style="font-size:32.4px">245</text>
<text class="t" transform="translate(1757.6 1183.7) rotate(-90)" text-anchor="end" style="font-size:32.4px">252</text>
<text class="t" transform="translate(1802.1 1183.7) rotate(-90)" text-anchor="end" style="font-size:32.4px">259</text>
<text class="t" transform="translate(1846.7 1183.7) rotate(-90)" text-anchor="end" style="font-size:32.4px">266</text>
<text class="t" transform="translate(1891.2 1183.7) rotate(-90)" text-anchor="end" style="font-size:32.4px">273</text>
<text class="t" transform="translate(1935.7 1183.7) rotate(-90)" text-anchor="end" style="font-size:32.4px">280</text>
<text class="t" transform="translate(1980.2 1183.7) rotate(-90)" text-anchor="end" style="font-size:32.4px">287</text>
<text class="t" transform="translate(2024.7 1183.7) rotate(-90)" text-anchor="end" style="font-size:32.4px">294</text>
<text class="t" transform="translate(2069.3 1183.7) rotate(-90)" text-anchor="end" style="font-size:32.4px">301</text>
<text class="t" transform="translate(2113.8 1183.7) rotate(-90)" text-anchor="end" style="font-size:32.4px">308</text>
<text class="t" transform="translate(2158.3 1183.7) rotate(-90)" text-anchor="end" style="font-size:32.4px">315</text>
<text class="t" transform="translate(2202.8 1183.7) rotate(-90)" text-anchor="end" style="font-size:32.4px">322</text>
<text class="t" transform="translate(2247.3 1183.7) rotate(-90)" text-anchor="end" style="font-size:32.4px">329</text>
<text class="t" transform="translate(2291.9 1183.7) rotate(-90)" text-anchor="end" style="font-size:32.4px">336</text>
<text class="t" transform="translate(2336.4 1183.7) rotate(-90)" text-anchor="end" style="font-size:32.4px">343</text>
<text class="t" transform="translate(2380.9 1183.7) rotate(-90)" text-anchor="end" style="font-size:32.4px">350</text>
<text class="t" transform="translate(2425.4 1183.7) rotate(-90)" text-anchor="end" style="font-size:32.4px">357</text>
<text class="t" transform="translate(2469.9 1183.7) rotate(-90)" text-anchor="end" style="font-size:32.4px">364</text>
<text class="t" transform="translate(87 943.0) rotate(-90)" text-anchor="middle">Duration of sessions (h)</text>
<text transform="translate(41.5 904.5) rotate(-90)" text-anchor="middle" style="font-size:49.5px;font-weight:bold">TRAD</text>
<text class="b" x="450.7" y="1267.2">General preparation 1</text>
<text class="d" x="452.0" y="1301.8">(day 1-91)</text>
<text class="b" x="1049.0" y="1274.2">General preparation 2</text>
<text class="d" x="1048.8" y="1308.8">(day 92-182)</text>
<text class="b" x="1547.0" y="1270.8">Spesific preparation</text>
<text class="d" x="1547.0" y="1305.8">(day 183-245)</text>
<text class="b" x="2014.0" y="1270.8">Competition phase</text>
<text class="d" x="2017.4" y="1305.8">(day 246-336)</text>
<text class="b" x="2405.0" y="1270.8">Regeneration</text>
<text class="d" x="2408.8" y="1305.8">(day 337-365)</text>
<g class="L">
<circle cx="386.1" cy="740.8" r="6.5"/>
<circle cx="373.4" cy="777.5" r="6.5"/>
<circle cx="367.0" cy="814.3" r="6.5"/>
<circle cx="316.1" cy="832.7" r="6.5"/>
<circle cx="436.9" cy="832.7" r="6.5"/>
<circle cx="494.1" cy="832.7" r="6.5"/>
<circle cx="513.2" cy="832.7" r="6.5"/>
<circle cx="570.4" cy="832.7" r="6.5"/>
<circle cx="602.2" cy="841.9" r="6.5"/>
<circle cx="189.0" cy="851.1" r="6.5"/>
<circle cx="214.4" cy="851.1" r="6.5"/>
<circle cx="246.2" cy="851.1" r="6.5"/>
<circle cx="347.9" cy="851.1" r="6.5"/>
<circle cx="456.0" cy="851.1" r="6.5"/>
<circle cx="634.0" cy="851.1" r="6.5"/>
<circle cx="640.3" cy="851.1" r="6.5"/>
<circle cx="360.6" cy="860.3" r="6.5"/>
<circle cx="354.3" cy="869.5" r="6.5"/>
<circle cx="456.0" cy="878.7" r="6.5"/>
<circle cx="545.0" cy="878.7" r="6.5"/>
<circle cx="360.6" cy="887.8" r="6.5"/>
<circle cx="398.8" cy="887.8" r="6.5"/>
<circle cx="373.4" cy="906.2" r="6.5"/>
<circle cx="233.5" cy="915.4" r="6.5"/>
<circle cx="252.6" cy="915.4" r="6.5"/>
<circle cx="303.4" cy="924.6" r="6.5"/>
<circle cx="309.8" cy="924.6" r="6.5"/>
<circle cx="621.3" cy="924.6" r="6.5"/>
<circle cx="169.9" cy="943.0" r="6.5"/>
<circle cx="195.4" cy="943.0" r="6.5"/>
<circle cx="201.7" cy="943.0" r="6.5"/>
<circle cx="239.9" cy="943.0" r="6.5"/>
<circle cx="271.6" cy="943.0" r="6.5"/>
<circle cx="290.7" cy="943.0" r="6.5"/>
<circle cx="297.1" cy="943.0" r="6.5"/>
<circle cx="328.9" cy="943.0" r="6.5"/>
<circle cx="367.0" cy="943.0" r="6.5"/>
<circle cx="379.7" cy="943.0" r="6.5"/>
<circle cx="405.1" cy="943.0" r="6.5"/>
<circle cx="411.5" cy="943.0" r="6.5"/>
<circle cx="500.5" cy="943.0" r="6.5"/>
<circle cx="545.0" cy="943.0" r="6.5"/>
<circle cx="595.8" cy="943.0" r="6.5"/>
<circle cx="608.6" cy="943.0" r="6.5"/>
<circle cx="189.0" cy="952.2" r="6.5"/>
<circle cx="278.0" cy="952.2" r="6.5"/>
<circle cx="284.4" cy="952.2" r="6.5"/>
<circle cx="487.8" cy="952.2" r="6.5"/>
<circle cx="525.9" cy="952.2" r="6.5"/>
<circle cx="443.3" cy="961.4" r="6.5"/>
<circle cx="614.9" cy="961.4" r="6.5"/>
<circle cx="328.9" cy="970.6" r="6.5"/>
<circle cx="519.6" cy="970.6" r="6.5"/>
<circle cx="201.7" cy="979.8" r="6.5"/>
<circle cx="258.9" cy="979.8" r="6.5"/>
<circle cx="208.1" cy="989.0" r="6.5"/>
<circle cx="246.2" cy="989.0" r="6.5"/>
<circle cx="265.3" cy="989.0" r="6.5"/>
<circle cx="538.6" cy="989.0" r="6.5"/>
<circle cx="157.2" cy="1016.5" r="6.5"/>
<circle cx="297.1" cy="998.1" r="6.5"/>
<circle cx="335.2" cy="998.1" r="6.5"/>
<circle cx="341.6" cy="998.1" r="6.5"/>
<circle cx="398.8" cy="998.1" r="6.5"/>
<circle cx="417.9" cy="998.1" r="6.5"/>
<circle cx="430.6" cy="998.1" r="6.5"/>
<circle cx="449.6" cy="998.1" r="6.5"/>
<circle cx="462.4" cy="1007.3" r="6.5"/>
<circle cx="481.4" cy="998.1" r="6.5"/>
<circle cx="494.1" cy="1007.3" r="6.5"/>
<circle cx="506.8" cy="998.1" r="6.5"/>
<circle cx="532.3" cy="1007.3" r="6.5"/>
<circle cx="576.8" cy="1025.7" r="6.5"/>
<circle cx="589.5" cy="1025.7" r="6.5"/>
<circle cx="614.9" cy="998.1" r="6.5"/>
<circle cx="621.3" cy="998.1" r="6.5"/>
<circle cx="500.5" cy="1053.3" r="6.5"/>
<circle cx="920.1" cy="731.6" r="6.5"/>
<circle cx="907.3" cy="750.0" r="6.5"/>
<circle cx="964.6" cy="750.0" r="6.5"/>
<circle cx="901.0" cy="777.5" r="6.5"/>
<circle cx="894.6" cy="805.1" r="6.5"/>
<circle cx="703.9" cy="805.1" r="6.5"/>
<circle cx="1250.6" cy="805.1" r="6.5"/>
<circle cx="665.8" cy="814.3" r="6.5"/>
<circle cx="761.1" cy="814.3" r="6.5"/>
<circle cx="1148.9" cy="814.3" r="6.5"/>
<circle cx="653.1" cy="832.7" r="6.5"/>
<circle cx="767.5" cy="832.7" r="6.5"/>
<circle cx="958.2" cy="832.7" r="6.5"/>
<circle cx="1047.2" cy="832.7" r="6.5"/>
<circle cx="786.6" cy="841.9" r="6.5"/>
<circle cx="1136.2" cy="851.1" r="6.5"/>
<circle cx="1257.0" cy="860.3" r="6.5"/>
<circle cx="862.8" cy="869.5" r="6.5"/>
<circle cx="945.5" cy="869.5" r="6.5"/>
<circle cx="659.4" cy="887.8" r="6.5"/>
<circle cx="716.6" cy="887.8" r="6.5"/>
<circle cx="735.7" cy="887.8" r="6.5"/>
<circle cx="926.4" cy="887.8" r="6.5"/>
<circle cx="1034.5" cy="887.8" r="6.5"/>
<circle cx="875.6" cy="897.0" r="6.5"/>
<circle cx="977.3" cy="897.0" r="6.5"/>
<circle cx="1168.0" cy="897.0" r="6.5"/>
<circle cx="691.2" cy="906.2" r="6.5"/>
<circle cx="1104.4" cy="906.2" r="6.5"/>
<circle cx="1199.8" cy="906.2" r="6.5"/>
<circle cx="1098.1" cy="915.4" r="6.5"/>
<circle cx="805.6" cy="924.6" r="6.5"/>
<circle cx="1123.5" cy="924.6" r="6.5"/>
<circle cx="1225.2" cy="924.6" r="6.5"/>
<circle cx="684.8" cy="943.0" r="6.5"/>
<circle cx="710.3" cy="943.0" r="6.5"/>
<circle cx="729.3" cy="943.0" r="6.5"/>
<circle cx="742.1" cy="943.0" r="6.5"/>
<circle cx="767.5" cy="943.0" r="6.5"/>
<circle cx="799.3" cy="943.0" r="6.5"/>
<circle cx="856.5" cy="943.0" r="6.5"/>
<circle cx="990.0" cy="943.0" r="6.5"/>
<circle cx="1015.4" cy="943.0" r="6.5"/>
<circle cx="1034.5" cy="943.0" r="6.5"/>
<circle cx="1142.5" cy="943.0" r="6.5"/>
<circle cx="1155.3" cy="943.0" r="6.5"/>
<circle cx="1174.3" cy="943.0" r="6.5"/>
<circle cx="958.2" cy="952.2" r="6.5"/>
<circle cx="1110.8" cy="952.2" r="6.5"/>
<circle cx="1193.4" cy="952.2" r="6.5"/>
<circle cx="1021.8" cy="961.4" r="6.5"/>
<circle cx="1142.5" cy="961.4" r="6.5"/>
<circle cx="1161.6" cy="961.4" r="6.5"/>
<circle cx="1244.3" cy="961.4" r="6.5"/>
<circle cx="742.1" cy="970.6" r="6.5"/>
<circle cx="773.8" cy="970.6" r="6.5"/>
<circle cx="780.2" cy="970.6" r="6.5"/>
<circle cx="1021.8" cy="970.6" r="6.5"/>
<circle cx="1212.5" cy="970.6" r="6.5"/>
<circle cx="1250.6" cy="970.6" r="6.5"/>
<circle cx="723.0" cy="979.8" r="6.5"/>
<circle cx="754.8" cy="979.8" r="6.5"/>
<circle cx="894.6" cy="979.8" r="6.5"/>
<circle cx="1117.1" cy="979.8" r="6.5"/>
<circle cx="862.8" cy="989.0" r="6.5"/>
<circle cx="926.4" cy="989.0" r="6.5"/>
<circle cx="945.5" cy="989.0" r="6.5"/>
<circle cx="996.3" cy="989.0" r="6.5"/>
<circle cx="1079.0" cy="989.0" r="6.5"/>
<circle cx="1231.5" cy="989.0" r="6.5"/>
<circle cx="1237.9" cy="989.0" r="6.5"/>
<circle cx="646.7" cy="998.1" r="6.5"/>
<circle cx="703.9" cy="998.1" r="6.5"/>
<circle cx="748.4" cy="998.1" r="6.5"/>
<circle cx="805.6" cy="998.1" r="6.5"/>
<circle cx="831.1" cy="998.1" r="6.5"/>
<circle cx="824.7" cy="1016.5" r="6.5"/>
<circle cx="901.0" cy="998.1" r="6.5"/>
<circle cx="913.7" cy="1007.3" r="6.5"/>
<circle cx="875.6" cy="1034.9" r="6.5"/>
<circle cx="888.3" cy="1034.9" r="6.5"/>
<circle cx="716.6" cy="1053.3" r="6.5"/>
<circle cx="1028.1" cy="998.1" r="6.5"/>
<circle cx="1040.8" cy="1053.3" r="6.5"/>
<circle cx="1059.9" cy="1016.5" r="6.5"/>
<circle cx="1066.3" cy="998.1" r="6.5"/>
<circle cx="1072.6" cy="1007.3" r="6.5"/>
<circle cx="1199.8" cy="998.1" r="6.5"/>
<circle cx="1282.4" cy="740.8" r="6.5"/>
<circle cx="1263.3" cy="750.0" r="6.5"/>
<circle cx="1320.5" cy="759.2" r="6.5"/>
<circle cx="1689.3" cy="740.8" r="6.5"/>
<circle cx="1333.3" cy="805.1" r="6.5"/>
<circle cx="1339.6" cy="805.1" r="6.5"/>
<circle cx="1276.0" cy="814.3" r="6.5"/>
<circle cx="1301.5" cy="832.7" r="6.5"/>
<circle cx="1466.8" cy="832.7" r="6.5"/>
<circle cx="1854.5" cy="832.7" r="6.5"/>
<circle cx="1371.4" cy="851.1" r="6.5"/>
<circle cx="1396.8" cy="851.1" r="6.5"/>
<circle cx="1676.5" cy="851.1" r="6.5"/>
<circle cx="1682.9" cy="851.1" r="6.5"/>
<circle cx="1314.2" cy="878.7" r="6.5"/>
<circle cx="1829.1" cy="878.7" r="6.5"/>
<circle cx="1326.9" cy="887.8" r="6.5"/>
<circle cx="1613.0" cy="887.8" r="6.5"/>
<circle cx="1848.2" cy="887.8" r="6.5"/>
<circle cx="1873.6" cy="887.8" r="6.5"/>
<circle cx="1269.7" cy="897.0" r="6.5"/>
<circle cx="1460.4" cy="897.0" r="6.5"/>
<circle cx="1574.8" cy="897.0" r="6.5"/>
<circle cx="1288.8" cy="906.2" r="6.5"/>
<circle cx="1307.8" cy="915.4" r="6.5"/>
<circle cx="1835.5" cy="915.4" r="6.5"/>
<circle cx="1384.1" cy="924.6" r="6.5"/>
<circle cx="1282.4" cy="943.0" r="6.5"/>
<circle cx="1301.5" cy="943.0" r="6.5"/>
<circle cx="1403.2" cy="943.0" r="6.5"/>
<circle cx="1415.9" cy="943.0" r="6.5"/>
<circle cx="1428.6" cy="943.0" r="6.5"/>
<circle cx="1555.8" cy="943.0" r="6.5"/>
<circle cx="1562.1" cy="943.0" r="6.5"/>
<circle cx="1600.3" cy="943.0" r="6.5"/>
<circle cx="1657.5" cy="943.0" r="6.5"/>
<circle cx="1810.0" cy="943.0" r="6.5"/>
<circle cx="1816.4" cy="943.0" r="6.5"/>
<circle cx="1860.9" cy="943.0" r="6.5"/>
<circle cx="1485.8" cy="952.2" r="6.5"/>
<circle cx="1460.4" cy="961.4" r="6.5"/>
<circle cx="1473.1" cy="961.4" r="6.5"/>
<circle cx="1568.5" cy="961.4" r="6.5"/>
<circle cx="1733.8" cy="961.4" r="6.5"/>
<circle cx="1352.3" cy="970.6" r="6.5"/>
<circle cx="1606.6" cy="970.6" r="6.5"/>
<circle cx="1803.7" cy="970.6" r="6.5"/>
<circle cx="1377.8" cy="979.8" r="6.5"/>
<circle cx="1517.6" cy="979.8" r="6.5"/>
<circle cx="1663.8" cy="979.8" r="6.5"/>
<circle cx="1511.3" cy="989.0" r="6.5"/>
<circle cx="1702.0" cy="989.0" r="6.5"/>
<circle cx="1835.5" cy="989.0" r="6.5"/>
<circle cx="1365.0" cy="998.1" r="6.5"/>
<circle cx="1371.4" cy="1016.5" r="6.5"/>
<circle cx="1409.5" cy="998.1" r="6.5"/>
<circle cx="1428.6" cy="998.1" r="6.5"/>
<circle cx="1435.0" cy="1007.3" r="6.5"/>
<circle cx="1415.9" cy="1025.7" r="6.5"/>
<circle cx="1441.3" cy="1025.7" r="6.5"/>
<circle cx="1454.0" cy="1025.7" r="6.5"/>
<circle cx="1524.0" cy="998.1" r="6.5"/>
<circle cx="1530.3" cy="1025.7" r="6.5"/>
<circle cx="1568.5" cy="1016.5" r="6.5"/>
<circle cx="1600.3" cy="1053.3" r="6.5"/>
<circle cx="1619.3" cy="1025.7" r="6.5"/>
<circle cx="1625.7" cy="1016.5" r="6.5"/>
<circle cx="1651.1" cy="998.1" r="6.5"/>
<circle cx="1682.9" cy="998.1" r="6.5"/>
<circle cx="1759.2" cy="1025.7" r="6.5"/>
<circle cx="1797.3" cy="998.1" r="6.5"/>
<circle cx="1816.4" cy="998.1" r="6.5"/>
<circle cx="1841.8" cy="1007.3" r="6.5"/>
<circle cx="1867.2" cy="1007.3" r="6.5"/>
<circle cx="1918.1" cy="832.7" r="6.5"/>
<circle cx="1930.8" cy="887.8" r="6.5"/>
<circle cx="1969.0" cy="887.8" r="6.5"/>
<circle cx="2236.0" cy="878.7" r="6.5"/>
<circle cx="2261.4" cy="887.8" r="6.5"/>
<circle cx="2293.2" cy="887.8" r="6.5"/>
<circle cx="1911.7" cy="906.2" r="6.5"/>
<circle cx="2229.6" cy="915.4" r="6.5"/>
<circle cx="1956.2" cy="924.6" r="6.5"/>
<circle cx="1905.4" cy="943.0" r="6.5"/>
<circle cx="1937.2" cy="943.0" r="6.5"/>
<circle cx="2286.8" cy="943.0" r="6.5"/>
<circle cx="2140.6" cy="970.6" r="6.5"/>
<circle cx="2153.3" cy="970.6" r="6.5"/>
<circle cx="2267.7" cy="970.6" r="6.5"/>
<circle cx="2305.9" cy="970.6" r="6.5"/>
<circle cx="2312.2" cy="970.6" r="6.5"/>
<circle cx="2382.2" cy="970.6" r="6.5"/>
<circle cx="1943.5" cy="989.0" r="6.5"/>
<circle cx="2007.1" cy="989.0" r="6.5"/>
<circle cx="1905.4" cy="998.1" r="6.5"/>
<circle cx="1924.5" cy="998.1" r="6.5"/>
<circle cx="1937.2" cy="998.1" r="6.5"/>
<circle cx="1962.6" cy="1025.7" r="6.5"/>
<circle cx="1886.3" cy="1053.3" r="6.5"/>
<circle cx="2000.7" cy="998.1" r="6.5"/>
<circle cx="2026.2" cy="998.1" r="6.5"/>
<circle cx="2045.2" cy="1016.5" r="6.5"/>
<circle cx="2058.0" cy="1016.5" r="6.5"/>
<circle cx="2070.7" cy="1016.5" r="6.5"/>
<circle cx="2108.8" cy="1025.7" r="6.5"/>
<circle cx="2115.2" cy="1007.3" r="6.5"/>
<circle cx="2134.2" cy="998.1" r="6.5"/>
<circle cx="2134.2" cy="1025.7" r="6.5"/>
<circle cx="2159.7" cy="1016.5" r="6.5"/>
<circle cx="2191.5" cy="1034.9" r="6.5"/>
<circle cx="2223.2" cy="1025.7" r="6.5"/>
<circle cx="2242.3" cy="998.1" r="6.5"/>
<circle cx="2255.0" cy="1053.3" r="6.5"/>
<circle cx="2299.5" cy="998.1" r="6.5"/>
<circle cx="2325.0" cy="1053.3" r="6.5"/>
<circle cx="2344.0" cy="998.1" r="6.5"/>
<circle cx="2356.7" cy="998.1" r="6.5"/>
<circle cx="2375.8" cy="998.1" r="6.5"/>
<circle cx="2356.7" cy="1053.3" r="6.5"/>
<circle cx="2369.5" cy="1053.3" r="6.5"/>
</g>
<g class="M">
<circle cx="163.6" cy="1108.4" r="6.5"/>
<circle cx="258.9" cy="1062.5" r="6.5"/>
<circle cx="341.6" cy="1080.9" r="6.5"/>
<circle cx="354.3" cy="1062.5" r="6.5"/>
<circle cx="379.7" cy="1053.3" r="6.5"/>
<circle cx="417.9" cy="1071.7" r="6.5"/>
<circle cx="468.7" cy="1080.9" r="6.5"/>
<circle cx="506.8" cy="1053.3" r="6.5"/>
<circle cx="538.6" cy="1071.7" r="6.5"/>
<circle cx="608.6" cy="1071.7" r="6.5"/>
<circle cx="627.6" cy="1080.9" r="6.5"/>
<circle cx="672.1" cy="1071.7" r="6.5"/>
<circle cx="697.6" cy="1071.7" r="6.5"/>
<circle cx="913.7" cy="1062.5" r="6.5"/>
<circle cx="932.8" cy="1071.7" r="6.5"/>
<circle cx="869.2" cy="1108.4" r="6.5"/>
<circle cx="996.3" cy="1053.3" r="6.5"/>
<circle cx="1079.0" cy="1067.6" r="6.5"/>
<circle cx="1117.1" cy="1071.7" r="6.5"/>
<circle cx="1129.8" cy="1080.9" r="6.5"/>
<circle cx="1174.3" cy="1071.7" r="6.5"/>
<circle cx="1193.4" cy="1062.5" r="6.5"/>
<circle cx="1269.7" cy="1062.5" r="6.5"/>
<circle cx="1288.8" cy="1067.6" r="6.5"/>
<circle cx="1307.8" cy="1080.9" r="6.5"/>
<circle cx="1326.9" cy="1062.5" r="6.5"/>
<circle cx="1365.0" cy="1080.9" r="6.5"/>
<circle cx="1409.5" cy="1086.4" r="6.5"/>
<circle cx="1435.0" cy="1099.3" r="6.5"/>
<circle cx="1492.2" cy="1099.3" r="6.5"/>
<circle cx="1524.0" cy="1108.4" r="6.5"/>
<circle cx="1619.3" cy="1108.4" r="6.5"/>
<circle cx="1822.7" cy="1071.7" r="6.5"/>
<circle cx="1841.8" cy="1080.9" r="6.5"/>
<circle cx="1924.5" cy="1090.1" r="6.5"/>
<circle cx="2013.5" cy="1145.2" r="6.5"/>
<circle cx="2166.0" cy="1145.2" r="6.5"/>
<circle cx="2363.1" cy="1145.2" r="6.5"/>
</g>
<g class="H">
<circle cx="208.1" cy="1126.8" r="6.5"/>
<circle cx="271.6" cy="1108.4" r="6.5"/>
<circle cx="322.5" cy="1105.1" r="6.5"/>
<circle cx="430.6" cy="1102.9" r="6.5"/>
<circle cx="449.6" cy="1108.4" r="6.5"/>
<circle cx="487.8" cy="1099.3" r="6.5"/>
<circle cx="551.3" cy="1099.3" r="6.5"/>
<circle cx="564.1" cy="1108.4" r="6.5"/>
<circle cx="589.5" cy="1099.3" r="6.5"/>
<circle cx="646.7" cy="1099.3" r="6.5"/>
<circle cx="723.0" cy="1099.3" r="6.5"/>
<circle cx="780.2" cy="1071.7" r="6.5"/>
<circle cx="754.8" cy="1126.8" r="6.5"/>
<circle cx="818.3" cy="1126.8" r="6.5"/>
<circle cx="812.0" cy="1108.4" r="6.5"/>
<circle cx="818.3" cy="1099.3" r="6.5"/>
<circle cx="824.7" cy="1108.4" r="6.5"/>
<circle cx="831.1" cy="1108.4" r="6.5"/>
<circle cx="881.9" cy="1099.3" r="6.5"/>
<circle cx="951.8" cy="1071.7" r="6.5"/>
<circle cx="970.9" cy="1071.7" r="6.5"/>
<circle cx="1009.1" cy="1099.3" r="6.5"/>
<circle cx="1028.1" cy="1108.4" r="6.5"/>
<circle cx="1053.6" cy="1105.1" r="6.5"/>
<circle cx="1066.3" cy="1102.9" r="6.5"/>
<circle cx="1072.6" cy="1096.3" r="6.5"/>
<circle cx="1085.3" cy="1105.1" r="6.5"/>
<circle cx="1161.6" cy="1134.9" r="6.5"/>
<circle cx="1180.7" cy="1136.0" r="6.5"/>
<circle cx="1206.1" cy="1099.3" r="6.5"/>
<circle cx="1218.8" cy="1099.3" r="6.5"/>
<circle cx="1231.5" cy="1126.8" r="6.5"/>
<circle cx="1390.5" cy="1025.7" r="6.5"/>
<circle cx="1377.8" cy="1099.3" r="6.5"/>
<circle cx="1422.3" cy="1117.6" r="6.5"/>
<circle cx="1447.7" cy="1115.1" r="6.5"/>
<circle cx="1454.0" cy="1117.6" r="6.5"/>
<circle cx="1498.5" cy="1126.8" r="6.5"/>
<circle cx="1504.9" cy="1117.6" r="6.5"/>
<circle cx="1536.7" cy="1126.8" r="6.5"/>
<circle cx="1543.0" cy="1140.4" r="6.5"/>
<circle cx="1549.4" cy="1116.2" r="6.5"/>
<circle cx="1581.2" cy="1118.4" r="6.5"/>
<circle cx="1587.5" cy="1112.9" r="6.5"/>
<circle cx="1593.9" cy="1136.0" r="6.5"/>
<circle cx="1632.0" cy="1117.6" r="6.5"/>
<circle cx="1638.4" cy="1136.0" r="6.5"/>
<circle cx="1676.5" cy="1090.1" r="6.5"/>
<circle cx="1695.6" cy="1108.4" r="6.5"/>
<circle cx="1714.7" cy="1147.1" r="6.5"/>
<circle cx="1721.0" cy="1149.3" r="6.5"/>
<circle cx="1727.4" cy="1108.4" r="6.5"/>
<circle cx="1740.1" cy="1126.8" r="6.5"/>
<circle cx="1746.5" cy="1140.4" r="6.5"/>
<circle cx="1752.8" cy="1099.3" r="6.5"/>
<circle cx="1765.5" cy="1102.9" r="6.5"/>
<circle cx="1771.9" cy="1102.9" r="6.5"/>
<circle cx="1867.2" cy="1099.3" r="6.5"/>
<circle cx="1880.0" cy="1142.6" r="6.5"/>
<circle cx="2077.0" cy="1007.3" r="6.5"/>
<circle cx="2172.4" cy="1025.7" r="6.5"/>
<circle cx="2388.5" cy="979.8" r="6.5"/>
<circle cx="1892.7" cy="1099.3" r="6.5"/>
<circle cx="1943.5" cy="1099.3" r="6.5"/>
<circle cx="1962.6" cy="1099.3" r="6.5"/>
<circle cx="1886.3" cy="1117.6" r="6.5"/>
<circle cx="2032.5" cy="1090.1" r="6.5"/>
<circle cx="1994.4" cy="1117.6" r="6.5"/>
<circle cx="1988.0" cy="1126.8" r="6.5"/>
<circle cx="1981.7" cy="1136.0" r="6.5"/>
<circle cx="2019.8" cy="1126.8" r="6.5"/>
<circle cx="2051.6" cy="1117.6" r="6.5"/>
<circle cx="2064.3" cy="1147.1" r="6.5"/>
<circle cx="2121.5" cy="1126.8" r="6.5"/>
<circle cx="2127.9" cy="1121.7" r="6.5"/>
<circle cx="2147.0" cy="1126.8" r="6.5"/>
<circle cx="2248.7" cy="1139.3" r="6.5"/>
<circle cx="2337.7" cy="1136.0" r="6.5"/>
</g>
<text x="4.4" y="32.6" style="font-family:'Liberation Sans', sans-serif;font-weight:bold;font-size:42.5px">A</text>
<text x="32" y="27" style="font-family:'Liberation Sans', sans-serif;font-weight:bold;font-size:36px">*</text>
<text x="2.2" y="674.2" style="font-family:'Liberation Sans', sans-serif;font-weight:bold;font-size:41.5px">B</text>
<text x="25.4" y="659.1" style="font-family:'Liberation Sans', sans-serif;font-weight:bold;font-size:36px">*</text>
<circle cx="2051.4" cy="17.4" r="8.5" fill="#00b050" stroke="#000" stroke-width="1.8"/>
<text x="2070.3" y="29.8" style="font-size:40.6px">LIT</text>
<circle cx="2170.9" cy="17.4" r="8.5" fill="#ffff00" stroke="#000" stroke-width="1.8"/>
<text x="2189.6" y="29.8" style="font-size:40.6px">MIT</text>
<circle cx="2301.1" cy="17.4" r="8.5" fill="#ff0000" stroke="#000" stroke-width="1.8"/>
<text x="2319.8" y="29.8" style="font-size:40.6px">HIT</text>
</svg></body></html>
